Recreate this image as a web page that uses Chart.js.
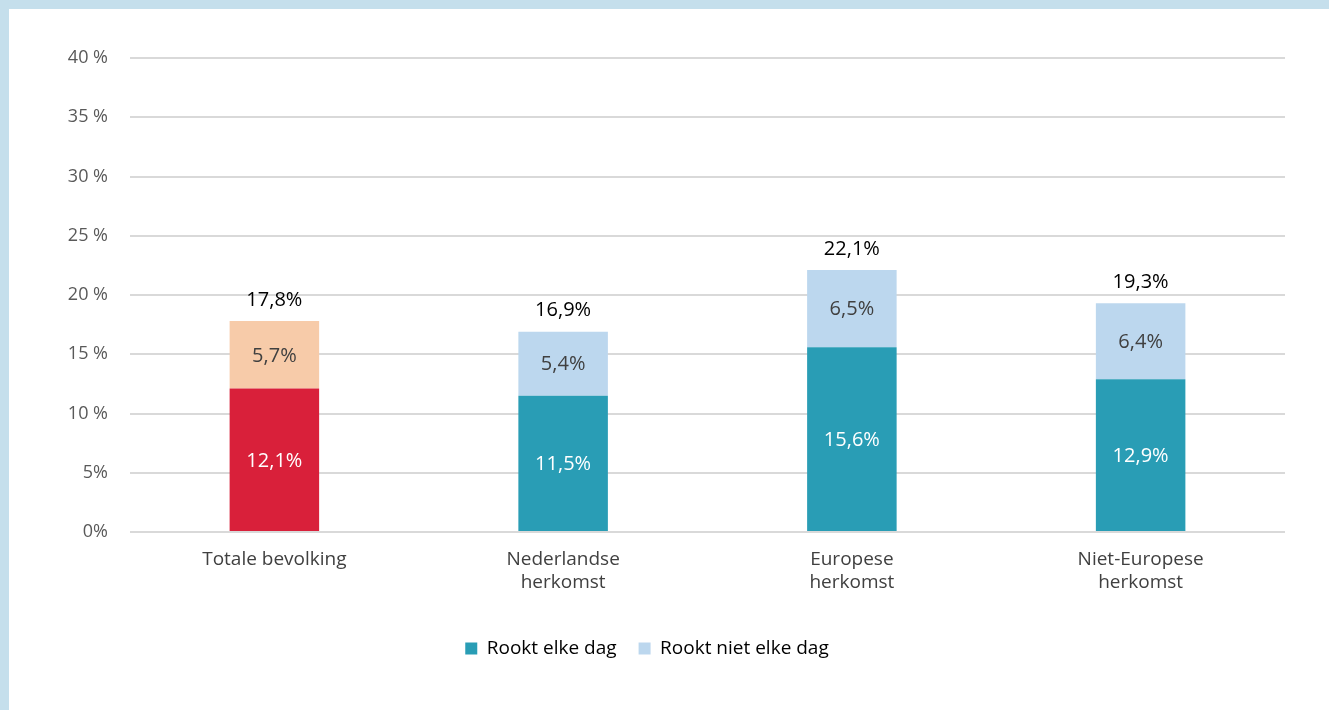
<!DOCTYPE html>
<html>
<head>
<meta charset="utf-8">
<script src="https://cdn.jsdelivr.net/npm/chart.js@4.4.1/dist/chart.umd.min.js"></script>
<style>
  html, body { margin: 0; padding: 0; background: #c5dfec; }
  #frame { position: absolute; left: 9px; top: 9px; width: 1320px; height: 701px; background: #fff; }
</style>
</head>
<body>
<div id="frame"><canvas id="chart" width="1320" height="701"></canvas></div>
<script>
const categories = ['Totale bevolking', ['Nederlandse', 'herkomst'], ['Europese', 'herkomst'], ['Niet-Europese', 'herkomst']];
const dailyValues = [12.1, 11.5, 15.6, 12.9];
const notDailyValues = [5.7, 5.4, 6.5, 6.4];
const totals = [17.8, 16.9, 22.1, 19.3];
const yTickLabels = ['0%', '5%', '10 %', '15 %', '20 %', '25 %', '30 %', '35 %', '40 %'];

const dailyColors = ['#d9203a', '#299db5', '#299db5', '#299db5'];
const notDailyColors = ['#f7cba9', '#bcd7ee', '#bcd7ee', '#bcd7ee'];
const fontFamily = '"Open Sans", "DejaVu Sans", sans-serif';

function fmt(v) {
    return v.toFixed(1).replace('.', ',') + '%';
}

// draws the value in each segment and the total above each stack
const barLabels = {
    id: 'barLabels',
    afterDatasetsDraw(chart) {
        const ctx = chart.ctx;
        ctx.save();
        ctx.font = '20px ' + fontFamily;
        ctx.textAlign = 'center';
        ctx.textBaseline = 'middle';
        chart.data.datasets.forEach((ds, di) => {
            const meta = chart.getDatasetMeta(di);
            meta.data.forEach((bar, i) => {
                const mid = (bar.y + bar.base) / 2;
                ctx.fillStyle = di === 0 ? '#ffffff' : '#404040';
                ctx.fillText(fmt(ds.data[i]), bar.x, mid + 1);
            });
        });
        const top = chart.getDatasetMeta(1);
        top.data.forEach((bar, i) => {
            ctx.fillStyle = '#000000';
            ctx.fillText(fmt(totals[i]), bar.x, bar.y - 21);
        });
        ctx.restore();
    }
};

const ctx = document.getElementById('chart').getContext('2d');
const chart = new Chart(ctx, {
    type: 'bar',
    data: {
        labels: categories,
        datasets: [
            { label: 'Rookt elke dag', data: dailyValues, backgroundColor: dailyColors, barPercentage: 0.62, categoryPercentage: 0.5 },
            { label: 'Rookt niet elke dag', data: notDailyValues, backgroundColor: notDailyColors, barPercentage: 0.62, categoryPercentage: 0.5 }
        ]
    },
    options: {
        responsive: false,
        animation: false,
        layout: { padding: { top: 49, right: 44, left: 0, bottom: 42 } },
        scales: {
            x: {
                stacked: true,
                grid: { display: false },
                border: { display: false },
                ticks: { color: '#404040', font: { family: fontFamily, size: 19 }, padding: 8, maxRotation: 0 },
                afterFit(scale) { scale.height = 85; }
            },
            y: {
                stacked: true,
                min: 0,
                max: 40,
                border: { display: false },
                grid: { color: '#d9d9d9', lineWidth: 2, drawTicks: false },
                ticks: {
                    stepSize: 5,
                    padding: 22,
                    color: '#595959',
                    font: { family: fontFamily, size: 18 },
                    callback: (v) => yTickLabels[v / 5]
                },
                afterFit(scale) { scale.width = 121; }
            }
        },
        plugins: {
            tooltip: { enabled: false },
            legend: {
                position: 'bottom',
                labels: {
                    color: '#595959',
                    font: { family: fontFamily, size: 19 },
                    boxWidth: 12,
                    boxHeight: 12,
                    padding: 22,
                    generateLabels: (c) => [
                        { text: 'Rookt elke dag', fillStyle: '#299db5', strokeStyle: '#299db5', lineWidth: 0, datasetIndex: 0 },
                        { text: 'Rookt niet elke dag', fillStyle: '#bcd7ee', strokeStyle: '#bcd7ee', lineWidth: 0, datasetIndex: 1 }
                    ]
                }
            }
        }
    },
    plugins: [barLabels]
});
</script>
</body>
</html>
